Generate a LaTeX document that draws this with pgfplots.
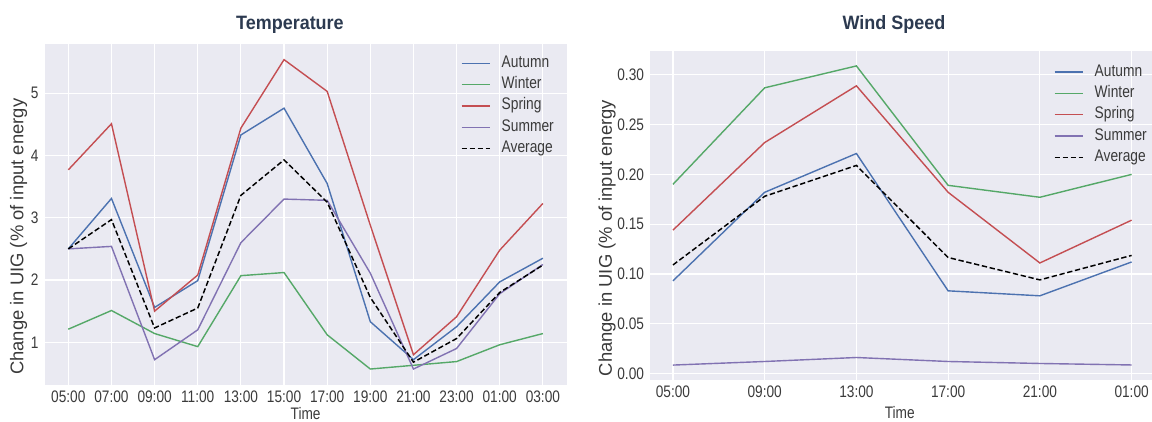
\documentclass[border=0pt]{standalone}
\usepackage{pgfplots}
\pgfplotsset{compat=1.18}
\usepackage{pgfplotstable}
\usepackage{fontspec}
\setmainfont{Liberation Sans}[FakeStretch=0.82]
\newfontfamily\titlefont{Liberation Sans}[FakeStretch=0.93]
\newfontfamily\ylabfont{Liberation Sans}

\definecolor{bgcol}{HTML}{EAEAF2}
\definecolor{cAut}{HTML}{4C72B0}
\definecolor{cWin}{HTML}{55A868}
\definecolor{cSpr}{HTML}{C44E52}
\definecolor{cSum}{HTML}{8172B2}
\definecolor{tickcol}{HTML}{3A3A3A}
\definecolor{titlecol}{HTML}{2C3A50}

\pgfplotstableread{
x Autumn Winter Spring Summer Average
0  2.50 1.21 3.77 2.50 2.50
1  3.31 1.51 4.51 2.54 2.97
2  1.56 1.14 1.50 0.72 1.23
3  1.99 0.93 2.08 1.20 1.55
4  4.33 2.07 4.44 2.60 3.36
5  4.76 2.12 5.54 3.30 3.93
6  3.55 1.12 5.03 3.28 3.25
7  1.33 0.57 2.88 2.11 1.72
8  0.72 0.63 0.80 0.57 0.68
9  1.25 0.69 1.41 0.90 1.06
10 1.97 0.96 2.48 1.78 1.80
11 2.35 1.14 3.23 2.25 2.24
}\temptab

\pgfplotstableread{
x Autumn Winter Spring Summer Average
0 0.093 0.190 0.144 0.0084 0.109
1 0.182 0.287 0.232 0.012 0.178
2 0.221 0.309 0.289 0.016 0.209
3 0.083 0.189 0.182 0.012 0.1165
4 0.078 0.177 0.111 0.010 0.094
5 0.112 0.200 0.154 0.0085 0.1186
}\windtab

\pgfplotsset{
  sbstyle/.style={
    scale only axis,
    anchor=south west,
    axis background/.style={fill=bgcol},
    axis line style={draw=none},
    major tick length=0pt,
    xmajorgrids, ymajorgrids,
    grid style={white, line width=0.9pt},
    tick label style={font=\fontsize{12.5}{14}\selectfont, text=tickcol},
    xticklabel style={yshift=-1pt},
    yticklabel style={xshift=-1pt},
    xlabel style={font=\fontsize{12.5}{14}\selectfont, text=tickcol},
    ylabel style={font=\ylabfont\fontsize{13.8}{15}\selectfont, text=tickcol, rotate=0, anchor=center},
    title style={font=\titlefont\bfseries\fontsize{14.5}{16}\selectfont, text=titlecol, anchor=center, yshift=0pt},
    legend cell align=left,
    legend style={draw=none, fill=none, inner sep=0pt, row sep=2pt, column sep=7pt,
      nodes={font=\fontsize{12.6}{14}\selectfont, text=tickcol, text height=8.5pt, text depth=2.5pt, inner sep=1.5pt}},
    legend image code/.code={\draw[#1] (0pt,0pt) -- (21pt,0pt);},
    every axis plot/.append style={line width=1.05pt},
  }
}

\begin{document}
\begin{tikzpicture}
\path[use as bounding box] (0,0) rectangle (864pt,315.75pt);

\begin{axis}[sbstyle,
  at={(33.45pt,27.3pt)}, width=391.5pt, height=255.4pt,
  xmin=-0.55, xmax=11.55, ymin=0.32, ymax=5.79,
  xtick={0,...,11},
  xticklabels={05:00,07:00,09:00,11:00,13:00,15:00,17:00,19:00,21:00,23:00,01:00,03:00},
  ytick={1,2,3,4,5}, yticklabels={1,2,3,4,5},
  xlabel={Time}, xlabel style={at={(axis description cs:0.5,-0.084)}, anchor=center},
  ylabel={Change in UIG (\% of input energy},
  ylabel style={at={(axis description cs:-0.05,0.434)}},
  title={Temperature}, title style={at={(axis description cs:0.470,1.033)}},
  legend style={at={(axis description cs:0.797,0.972)}, anchor=north west},
]
\addplot[cAut] table[x=x, y=Autumn] {\temptab};
\addlegendentry{Autumn}
\addplot[cWin] table[x=x, y=Winter] {\temptab};
\addlegendentry{Winter}
\addplot[cSpr] table[x=x, y=Spring] {\temptab};
\addlegendentry{Spring}
\addplot[cSum] table[x=x, y=Summer] {\temptab};
\addlegendentry{Summer}
\addplot[black, dash pattern=on 4pt off 2pt, line width=1.1pt] table[x=x, y=Average] {\temptab};
\addlegendentry{Average}
\end{axis}

\begin{axis}[sbstyle,
  at={(487.5pt,30.75pt)}, width=378.4pt, height=246.75pt,
  xmin=-0.25, xmax=5.25, ymin=-0.0066, ymax=0.324,
  xtick={0,...,5},
  xticklabels={05:00,09:00,13:00,17:00,21:00,01:00},
  ytick={0,0.05,0.10,0.15,0.20,0.25,0.30},
  yticklabels={0.00,0.05,0.10,0.15,0.20,0.25,0.30},
  xlabel={Time}, xlabel style={at={(axis description cs:0.495,-0.1)}, anchor=center},
  ylabel={Change in UIG (\% of input energy},
  ylabel style={at={(axis description cs:-0.085,0.431)}},
  title={Wind Speed}, title style={at={(axis description cs:0.4836,1.055)}},
  legend style={at={(axis description cs:0.80,0.965)}, anchor=north west},
]
\addplot[cAut] table[x=x, y=Autumn] {\windtab};
\addlegendentry{Autumn}
\addplot[cWin] table[x=x, y=Winter] {\windtab};
\addlegendentry{Winter}
\addplot[cSpr] table[x=x, y=Spring] {\windtab};
\addlegendentry{Spring}
\addplot[cSum] table[x=x, y=Summer] {\windtab};
\addlegendentry{Summer}
\addplot[black, dash pattern=on 4pt off 2pt, line width=1.1pt] table[x=x, y=Average] {\windtab};
\addlegendentry{Average}
\end{axis}
\end{tikzpicture}
\end{document}
